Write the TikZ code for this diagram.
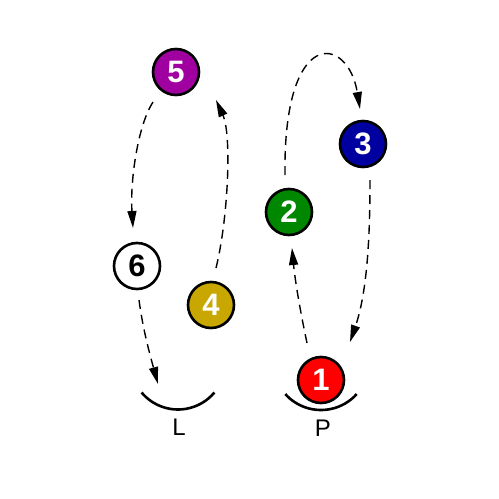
\documentclass[tikz,border=0pt]{standalone}
\usepackage{fontspec}
\setmainfont{Liberation Sans}
\usetikzlibrary{arrows.meta,calc}
\definecolor{cpurple}{RGB}{160,0,160}
\definecolor{cblue}{RGB}{0,0,160}
\definecolor{cgreen}{RGB}{0,135,0}
\definecolor{cgold}{RGB}{200,168,0}
\definecolor{cred}{RGB}{255,0,0}
\tikzset{
  ball/.style={circle, draw=black, line width=2.6pt, minimum size=46pt, inner sep=0pt,
    font=\fontsize{31}{31}\selectfont\bfseries, text=white},
  flow/.style={line width=1.4pt, dash pattern=on 9pt off 6pt, -{Triangle[length=17pt,width=9pt]}},
  rim/.style={line width=2.6pt},
  lbl/.style={font=\fontsize{24}{24}\selectfont}
}
\begin{document}
\begin{tikzpicture}[x=1pt,y=1pt]
\useasboundingbox (0,0) rectangle (499,-499);
% nodes
\node[ball, fill=cpurple] (n5) at (176,-72) {5};
\node[ball, fill=white, text=black] (n6) at (137,-266) {6};
\node[ball, fill=cgold] (n4) at (211,-305) {4};
\node[ball, fill=cgreen] (n2) at (289,-212) {2};
\node[ball, fill=cblue] (n3) at (363,-144) {3};
\node[ball, fill=cred] (n1) at (321,-380) {1};
% cups
\coordinate (Lc) at (178,-362);
\coordinate (Pc) at (321,-362);
\draw[rim] ([shift={(220:47.5)}]Lc) arc[start angle=220, end angle=320, radius=47.5];
\draw[rim] ([shift={(222:48)}]Pc) arc[start angle=222, end angle=318, radius=48];
\node[lbl] (L) at (179,-427) {L};
\node[lbl] (P) at (323,-428) {P};
% connectors
\draw[flow] ($(n5)+(-23,-30)$) .. controls (138,-125) and (130,-180) .. ($(n6)+(-4,38)$);
\draw[flow] ($(n6)+(2,-34)$) .. controls (143,-330) and (150,-355) .. ($(Lc)+(-20,-22)$);
\draw[flow] ($(n4)+(5,37)$) .. controls (228,-220) and (232,-135) .. ($(n5)+(40,-28)$);
\draw[flow] ($(n1)+(-14,37)$) .. controls (300,-310) and (295,-280) .. ($(n2)+(3,-36)$);
\draw[flow] ($(n2)+(-4,37)$) .. controls (283,-25) and (348,-35) .. ($(n3)+(-3,35)$);
\draw[flow] ($(n3)+(7,-36)$) .. controls (370,-230) and (368,-290) .. ($(n1)+(29,38)$);
\end{tikzpicture}
\end{document}
